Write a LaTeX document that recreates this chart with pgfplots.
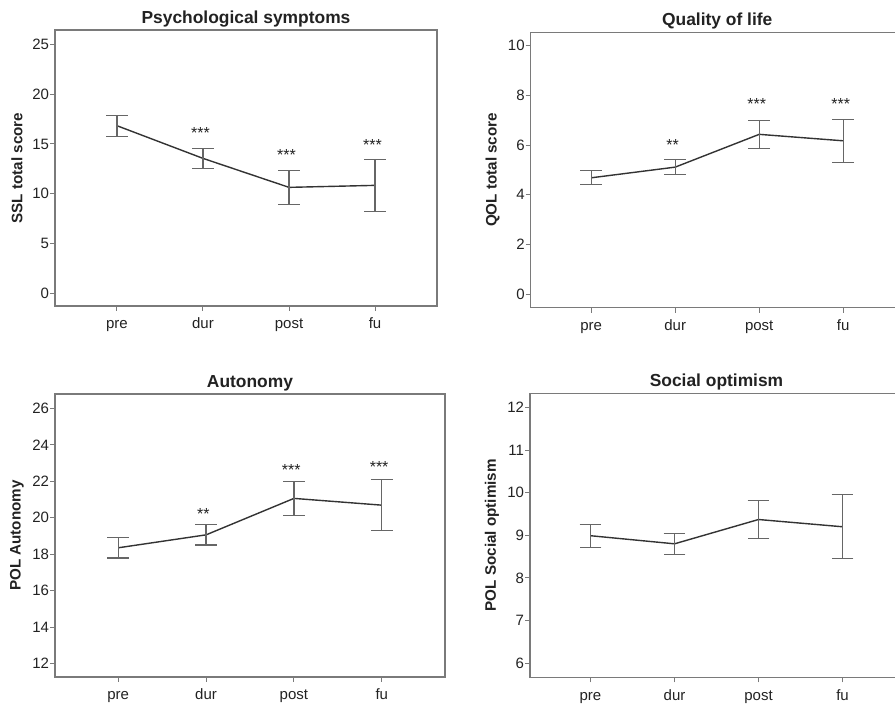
\documentclass[border=0pt]{standalone}
\usepackage{pgfplots}
\pgfplotsset{compat=1.18}
\usepackage{fontspec}
\setmainfont{Liberation Sans}
\definecolor{boxc}{HTML}{7A7A7A}
\definecolor{linec}{HTML}{333333}
\definecolor{errc}{HTML}{666666}
\definecolor{txt}{HTML}{222222}
\tikzset{stars/.style={font=\fontsize{8}{9}\selectfont, text=txt, anchor=base}}
\pgfplotsset{
  panel/.style={
    scale only axis,
    xmin=0.28, xmax=4.72,
    xtick={1,2,3,4},
    xticklabels={pre,dur,post,fu},
    tick align=outside,
    major tick length=2.5pt,
    tick style={color=boxc, line width=0.5pt},
    axis line style={color=boxc, line width=0.6pt},
    every tick label/.append style={font=\fontsize{7.5}{8}\selectfont, text=txt},
    /pgf/number format/assume math mode=true,
    xtick pos=bottom, ytick pos=left,
    every axis title/.style={at={(0.5,1)}, anchor=base, yshift=3.2pt, font=\bfseries\fontsize{8.7}{9}\selectfont, text=txt},
    every axis y label/.style={at={(axis description cs:0,0.5)}, xshift=-19pt, rotate=90, anchor=center, font=\bfseries\fontsize{7.6}{8}\selectfont, text=txt},
    xticklabel style={anchor=base, yshift=-9pt},
    yticklabel style={xshift=3pt},
    clip=false,
  },
  meanline/.style={
    color=linec, line width=0.7pt, mark=none,
    error bars/.cd, y dir=both, y explicit,
    error bar style={color=errc, line width=0.6pt},
    error mark options={color=errc, line width=0.6pt, mark size=5.4pt, rotate=90},
  },
}
\begin{document}
\begin{tikzpicture}
\useasboundingbox (0,0) rectangle (447.5pt,352.5pt);
% Panel 1
\begin{axis}[panel, at={(27.5pt,337.5pt)}, anchor=north west, width=191pt, height=138pt,
  ymin=-1.27, ymax=26.44, ytick={0,5,10,15,20,25},
  title={Psychological symptoms}, ylabel={SSL total score}]
\addplot+[meanline] coordinates {
  (1,16.83) +- (0,1.05)
  (2,13.55) +- (0,1.00)
  (3,10.64) +- (0,1.70)
  (4,10.84) +- (0,2.59)
};
\node[stars] at (axis cs:1.97,15.53) {***};
\node[stars] at (axis cs:2.97,13.35) {***};
\node[stars] at (axis cs:3.97,14.36) {***};
\end{axis}
% Panel 2
\begin{axis}[panel, at={(265.35pt,336.35pt)}, anchor=north west, width=186.5pt, height=137.7pt,
  ymin=-0.55, ymax=10.54, ytick={0,2,4,6,8,10},
  title={Quality of life}, ylabel={QOL total score}]
\addplot+[meanline] coordinates {
  (1,4.68) +- (0,0.28)
  (2,5.11) +- (0,0.30)
  (3,6.43) +- (0,0.57)
  (4,6.17) +- (0,0.87)
};
\node[stars] at (axis cs:1.97,5.79) {**};
\node[stars] at (axis cs:2.97,7.43) {***};
\node[stars] at (axis cs:3.97,7.43) {***};
\end{axis}
% Panel 3
\begin{axis}[panel, at={(27.5pt,155.5pt)}, anchor=north west, width=195pt, height=141.5pt,
  ymin=11.26, ymax=26.79, ytick={12,14,16,18,20,22,24,26},
  title={Autonomy}, ylabel={POL Autonomy}]
\addplot+[meanline] coordinates {
  (1,18.35) +- (0,0.56)
  (2,19.06) +- (0,0.56)
  (3,21.06) +- (0,0.92)
  (4,20.69) +- (0,1.41)
};
\node[stars] at (axis cs:1.97,19.91) {**};
\node[stars] at (axis cs:2.97,22.32) {***};
\node[stars] at (axis cs:3.97,22.49) {***};
\end{axis}
% Panel 4
\begin{axis}[panel, at={(265pt,155.85pt)}, anchor=north west, width=186.5pt, height=142pt,
  ymin=5.67, ymax=12.33, ytick={6,7,8,9,10,11,12},
  title={Social optimism}, ylabel={POL Social optimism}]
\addplot+[meanline] coordinates {
  (1,8.99) +- (0,0.27)
  (2,8.80) +- (0,0.25)
  (3,9.37) +- (0,0.44)
  (4,9.20) +- (0,0.75)
};
\end{axis}
\end{tikzpicture}
\end{document}
